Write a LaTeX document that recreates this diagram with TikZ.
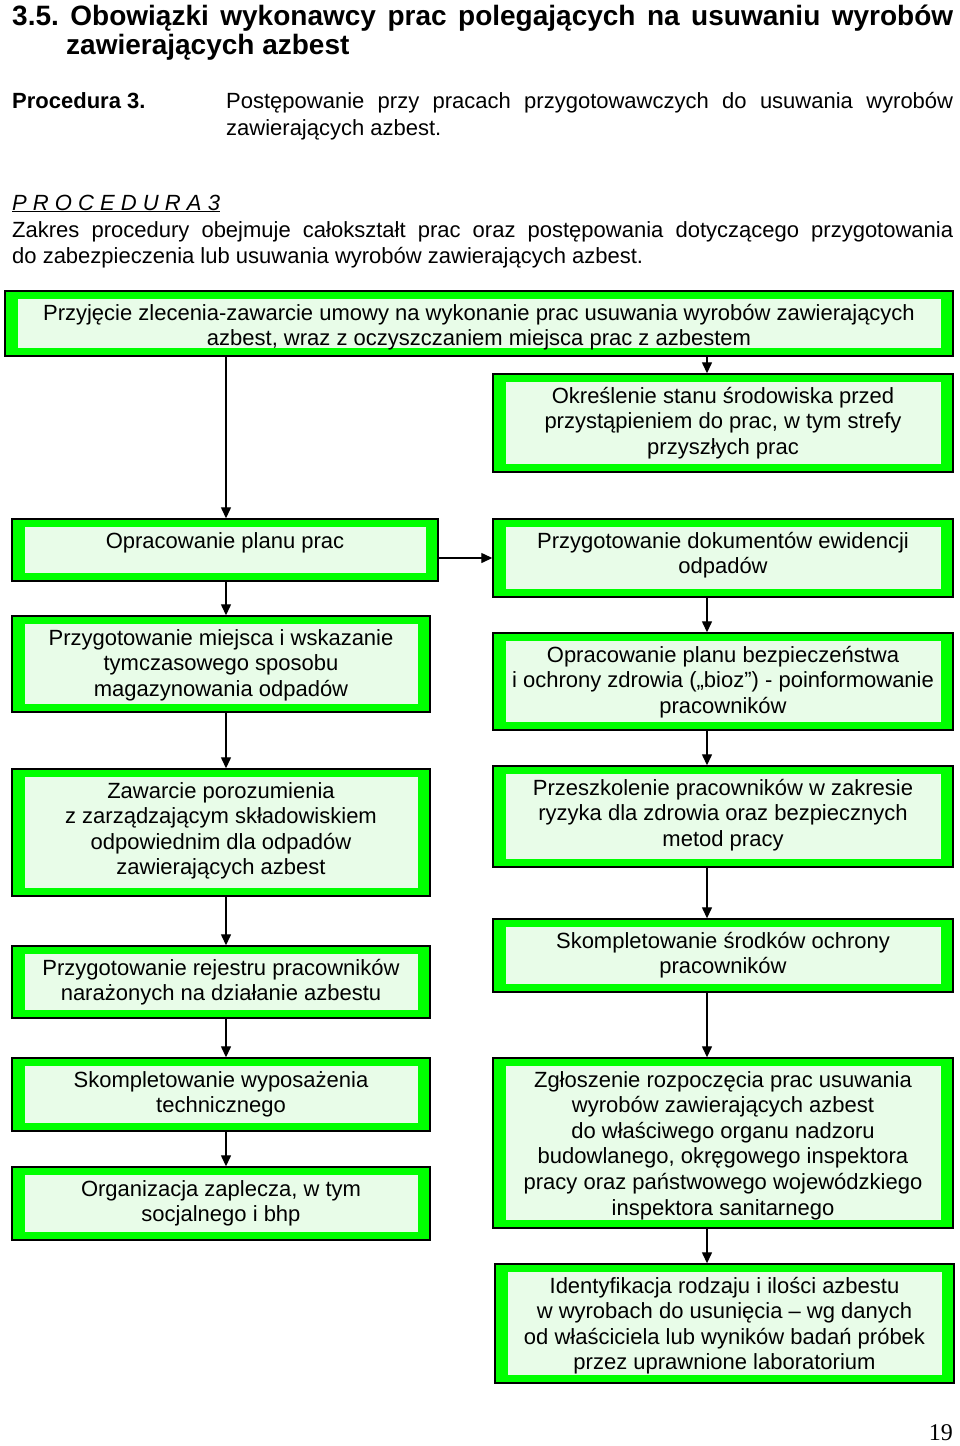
\documentclass[tikz,border=0pt]{standalone}
\usepackage{fontspec}
\setmainfont{Liberation Sans}
\newfontfamily\serifpn{Liberation Serif}
\usetikzlibrary{arrows.meta,fit}
\definecolor{bandgreen}{RGB}{0,255,0}
\definecolor{innergreen}{RGB}{232,252,232}
\tikzset{
  outerbox/.style={draw=black, line width=1.4pt, fill=bandgreen, inner sep=0pt,
    path picture={\fill[innergreen] ([xshift=12.5pt,yshift=-8pt]path picture bounding box.north west) rectangle ([xshift=-12.5pt,yshift=8pt]path picture bounding box.south east);}},
  boxtext/.style={inner sep=0pt, align=center, font=\fontsize{22}{25.6}\selectfont},
  arr/.style={line width=1.3pt, -{Triangle[length=11pt,width=10pt]}},
  hdr/.style={anchor=base west, inner sep=0pt, font=\fontsize{22}{25.6}\selectfont},
}
\newcommand{\greenbox}[6]{%
  \node[outerbox, fit={(#2,#3) (#4,#5)}] (#1) {};
  \node[boxtext, anchor=north, yshift=-11.5pt] (#1t) at (#1.north) {\rule{0pt}{18pt}#6};
}
\begin{document}
\begin{tikzpicture}[x=1pt,y=-1pt]
\useasboundingbox (0,0) rectangle (960,1446);
% header
\node[hdr, font=\bfseries\fontsize{28}{31}\selectfont] (t1) at (12,25) {\makebox[941pt][s]{3.5.\ Obowiązki wykonawcy prac polegających na usuwaniu wyrobów}};
\node[hdr, font=\bfseries\fontsize{28}{31}\selectfont] (t2) at (66,54) {zawierających azbest};
\node[hdr, font=\bfseries\fontsize{22}{25.6}\selectfont] (p1) at (12,108) {Procedura 3.};
\node[hdr] (p2) at (226,108) {\makebox[727pt][s]{Postępowanie przy pracach przygotowawczych do usuwania wyrobów}};
\node[hdr] (p3) at (226,135) {zawierających azbest.};
\node[hdr] (pr) at (12,210) {\underline{\textit{P R O C E D U R A 3}}};
\node[hdr] (z1) at (12,237) {\makebox[941pt][s]{Zakres procedury obejmuje całokształt prac oraz postępowania dotyczącego przygotowania}};
\node[hdr] (z2) at (12,263) {do zabezpieczenia lub usuwania wyrobów zawierających azbest.};
% boxes
\greenbox{A}{5}{291}{953}{356}{Przyjęcie zlecenia-zawarcie umowy na wykonanie prac usuwania wyrobów zawierających\\ azbest, wraz z oczyszczaniem miejsca prac z azbestem}
\greenbox{B}{493}{374}{953}{472}{Określenie stanu środowiska przed\\ przystąpieniem do prac, w tym strefy\\ przyszłych prac}
\greenbox{C}{12}{519}{438}{581}{Opracowanie planu prac}
\greenbox{D}{493}{519}{953}{597}{Przygotowanie dokumentów ewidencji\\ odpadów}
\greenbox{E}{12}{616}{430}{712}{Przygotowanie miejsca i wskazanie\\ tymczasowego sposobu\\ magazynowania odpadów}
\greenbox{F}{493}{633}{953}{730}{Opracowanie planu bezpieczeństwa\\ i ochrony zdrowia („bioz”) - poinformowanie\\ pracowników}
\greenbox{G}{12}{769}{430}{896}{Zawarcie porozumienia\\ z zarządzającym składowiskiem\\ odpowiednim dla odpadów\\ zawierających azbest}
\greenbox{H}{493}{766}{953}{867}{Przeszkolenie pracowników w zakresie\\ ryzyka dla zdrowia oraz bezpiecznych\\ metod pracy}
\greenbox{I}{12}{946}{430}{1018}{Przygotowanie rejestru pracowników\\ narażonych na działanie azbestu}
\greenbox{J}{493}{919}{953}{992}{Skompletowanie środków ochrony\\ pracowników}
\greenbox{K}{12}{1058}{430}{1131}{Skompletowanie wyposażenia\\ technicznego}
\greenbox{L}{493}{1058}{953}{1228}{Zgłoszenie rozpoczęcia prac usuwania\\ wyrobów zawierających azbest\\ do właściwego organu nadzoru\\ budowlanego, okręgowego inspektora\\ pracy oraz państwowego wojewódzkiego\\ inspektora sanitarnego}
\greenbox{M}{12}{1167}{430}{1240}{Organizacja zaplecza, w tym\\ socjalnego i bhp}
\greenbox{N}{495}{1264}{954}{1383}{Identyfikacja rodzaju i ilości azbestu\\ w wyrobach do usunięcia – wg danych\\ od właściciela lub wyników badań próbek\\ przez uprawnione laboratorium}
% connector columns
\coordinate (lx) at (226,0);
\coordinate (rx) at (707,0);
\draw[arr] (A.south -| lx) -- (C.north -| lx);
\draw[arr] (A.south -| rx) -- (B.north -| rx);
\draw[arr] (C.east |- D.west) -- (D.west);
\draw[arr] (C.south -| lx) -- (E.north -| lx);
\draw[arr] (E.south -| lx) -- (G.north -| lx);
\draw[arr] (G.south -| lx) -- (I.north -| lx);
\draw[arr] (I.south -| lx) -- (K.north -| lx);
\draw[arr] (K.south -| lx) -- (M.north -| lx);
\draw[arr] (D.south -| rx) -- (F.north -| rx);
\draw[arr] (F.south -| rx) -- (H.north -| rx);
\draw[arr] (H.south -| rx) -- (J.north -| rx);
\draw[arr] (J.south -| rx) -- (L.north -| rx);
\draw[arr] (L.south -| rx) -- (N.north -| rx);
% page number
\node[anchor=base east, inner sep=0pt, font=\serifpn\fontsize{24}{26}\selectfont] (pg) at (953,1440) {19};
\end{tikzpicture}
\end{document}
